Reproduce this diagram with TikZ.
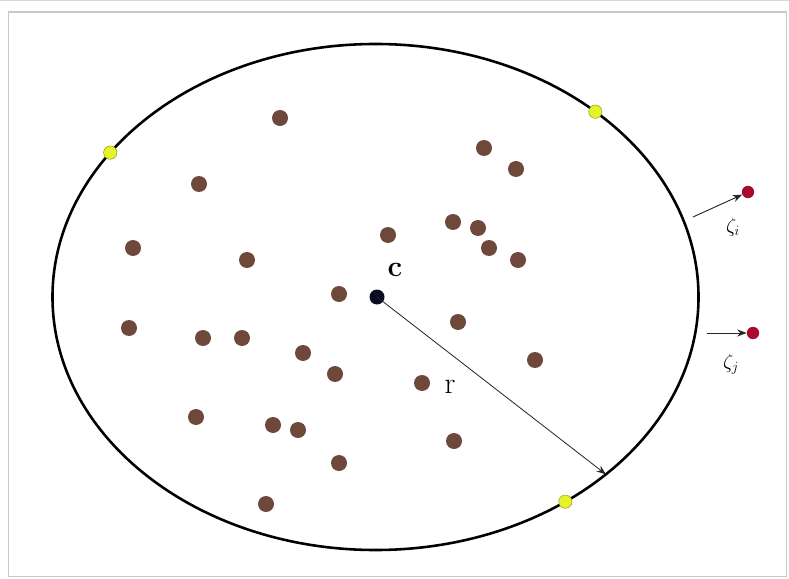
\documentclass[tikz,border=0pt]{standalone}
\usepackage{amsmath,amssymb}
\usepackage{xcolor}
\usetikzlibrary{positioning,arrows.meta,shapes.geometric,calc}

\definecolor{ptbrown}{RGB}{110,72,58}
\definecolor{ptyellow}{RGB}{228,244,40}
\definecolor{ptred}{RGB}{170,10,50}
\definecolor{ptnavy}{RGB}{10,12,35}
\definecolor{framegray}{RGB}{200,200,200}

\begin{document}
\begin{tikzpicture}[x=0.03cm, y=0.03cm,
    pt/.style={circle, fill=ptbrown, inner sep=0pt, minimum width=0.48cm, minimum height=0.41cm},
    onb/.style={circle, fill=ptyellow, draw=ptyellow!60!black, line width=0.4pt,
                 inner sep=0pt, minimum size=0.40cm},
    outpt/.style={circle, fill=ptred, inner sep=0pt, minimum size=0.37cm},
    ctr/.style={circle, fill=ptnavy, inner sep=0pt, minimum width=0.45cm, minimum height=0.39cm},
    arr/.style={-{Stealth[length=8pt, width=6pt]}, line width=0.8pt, black!85},
    lbl/.style={font=\fontsize{26}{30}\selectfont}
]
\useasboundingbox (0,0) rectangle (789,578);
% frame
\draw[framegray!70, line width=0.6pt] (0,577.3) -- (789,577.3);
\draw[framegray, line width=0.9pt] (8.5,1.5) rectangle (786.5,566);

% boundary
\node[draw, ellipse, line width=2.2pt, minimum width=19.38cm, minimum height=15.18cm,
      inner sep=0pt] (bound) at (375.5,281) {};

% points inside
\foreach \px/\py [count=\k] in {280/460, 484/430, 516/409, 199/394, 133/330,
    247/318, 388/343, 453/356, 478/350, 489/330, 518/318, 339/284, 129/250,
    203/240, 242/240, 303/225, 458/256, 535/218, 335/204, 422/195, 196/161,
    273/153, 298/148, 454/137, 339/115, 266/74}
  \node[pt] (p\k) at (\px,\py) {};

% points on the boundary
\node[onb] (e1) at ($(375.5,281)+(145.2:323 and 253)$) {};
\node[onb] (e2) at ($(375.5,281)+(47.1:323 and 253)$) {};
\node[onb] (e3) at ($(375.5,281)+(-54:323 and 253)$) {};

% centre and radius
\node[ctr] (c) at (377,281) {};
\node[font=\fontsize{25}{30}\selectfont\bfseries] (clbl) at (395,308) {c};
\coordinate (rend) at ($(375.5,281)+(-44.5:323 and 253)$);
\draw[arr, line width=0.7pt] (c.center) -- (rend);
\node[lbl] (rlbl) at (450,191) {r};

% outliers
\node[outpt] (zi) at (748,386) {};
\node[outpt] (zj) at (753,245) {};
\coordinate (zis) at (693,361);
\coordinate (zjs) at (707,245);
\draw[arr] (zis) -- (zi);
\draw[arr] (zjs) -- (zj);
\node[font=\fontsize{17}{20}\selectfont] (zilbl) at (733,351) {$\zeta_i$};
\node[font=\fontsize{17}{20}\selectfont] (zjlbl) at (731,214) {$\zeta_j$};
\end{tikzpicture}
\end{document}
